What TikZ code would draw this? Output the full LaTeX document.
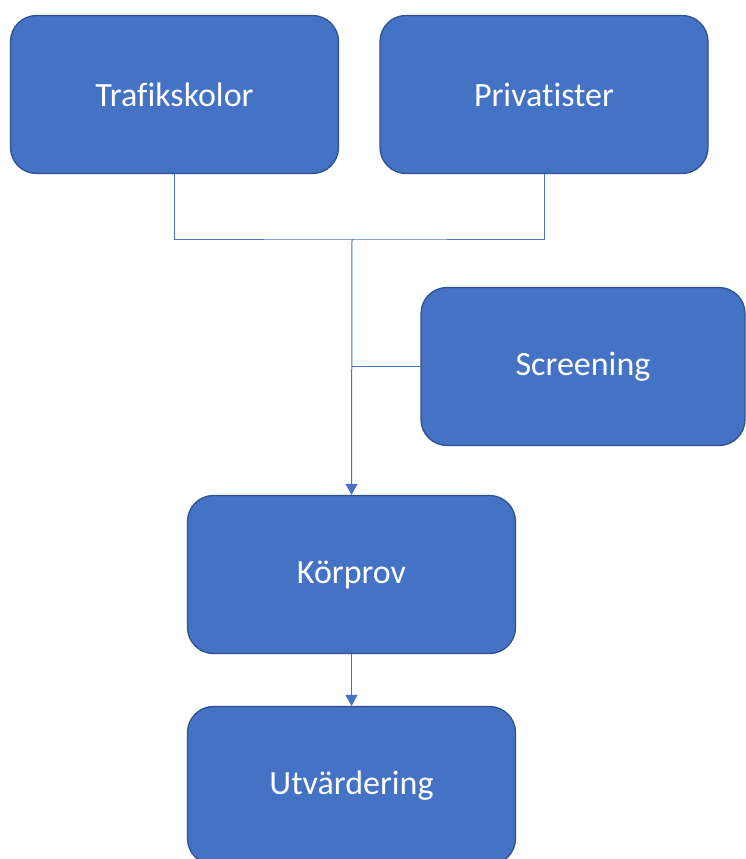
\documentclass[tikz,border=0pt]{standalone}
\usepackage{fontspec}
\setmainfont[Ligatures=NoCommon]{Carlito}
\usepackage{xcolor}
\usetikzlibrary{arrows.meta}

\definecolor{boxfill}{HTML}{4472C4}
\definecolor{boxedge}{HTML}{2F528F}
\definecolor{linkline}{HTML}{4472C4}

\begin{document}
\begin{tikzpicture}[x=1pt,y=-1pt,
                    flowbox/.style={
                         rectangle, rounded corners=26pt,
                         fill=boxfill, draw=boxedge, line width=1.3pt,
                         minimum width=328pt, minimum height=158pt,
                         text=white, font=\fontsize{34}{40}\selectfont
                        },
                    link/.style={draw=linkline, line width=1pt},
                    tip/.style={-{Triangle[width=12pt,length=11pt]}}
                    ]
  \useasboundingbox (0,0) rectangle (745,859);

  \node[flowbox] (trafik)  at (174.5,94.5) {Trafikskolor};
  \node[flowbox] (privat)  at (544,94.5)   {Privatister};
  \node[flowbox, minimum width=324pt] (screen) at (583,366.5) {Screening};
  \node[flowbox] (korprov) at (351.5,574.5) {Körprov};
  \node[flowbox] (utvard)  at (351.5,785.5) {Utvärdering};

  \coordinate (join) at (352,239);

  \draw[link] (trafik.south) |- (join) -| (privat.south);
  \draw[link, tip] (join) -- (korprov.north);
  \draw[link] (screen.west) -- (screen.west -| join);
  \draw[link, tip] (korprov.south) -- (utvard.north);
\end{tikzpicture}
\end{document}
